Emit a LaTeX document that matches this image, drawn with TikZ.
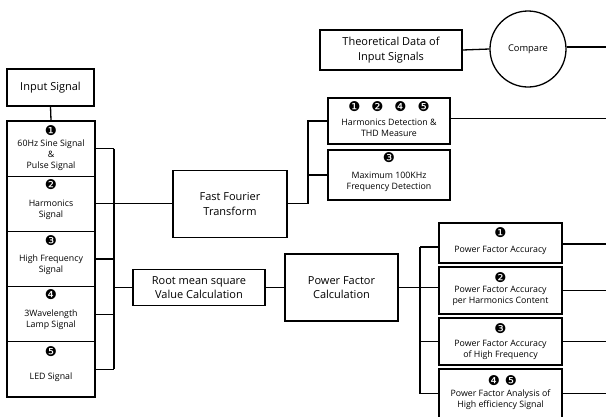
\documentclass[tikz,border=0pt]{standalone}
\usepackage{fontspec}
\setmainfont{Open Sans}
\newfontfamily\numfont{DejaVu Sans}
\tikzset{
  every picture/.style={x=1pt,y=-1pt},
  box/.style={draw,line width=1.3pt,fill=white,inner sep=0pt,align=center},
  bigtxt/.style={font=\fontsize{11}{14.5}\selectfont},
  smalltxt/.style={font=\fontsize{8.8}{11}\selectfont,align=center,inner sep=0pt},
  numtxt/.style={font=\numfont\fontsize{13.5}{14}\selectfont,inner sep=0pt},
  wire/.style={line width=1.3pt},
}
\newcommand{\nb}[1]{\char"#1}
\begin{document}
\begin{tikzpicture}
\useasboundingbox (0,0) rectangle (606,416);
\clip (0,0) rectangle (606,416);

% top
\node[box,bigtxt,minimum width=142pt,minimum height=40pt] (theo) at (391,50) {Theoretical Data of\\Input Signals};
\node[draw,circle,line width=1.3pt,minimum size=76pt,inner sep=0pt,font=\fontsize{9.3}{10}\selectfont] (cmp) at (528,49) {Compare};
\coordinate (cmpout) at (606,47);
\draw[wire] (theo.east) -- (cmp.west);
\draw[wire] (cmp.east |- cmpout) -- (cmpout);

% input column
\node[box,bigtxt,minimum width=87pt,minimum height=37pt] (insig) at (50.5,87.5) {Input Signal};
\node[box,minimum width=88pt,minimum height=55.2pt] (s1) at (51,148.6) {};
\node[box,minimum width=88pt,minimum height=55.2pt] (s2) at (51,203.8) {};
\node[box,minimum width=88pt,minimum height=55.2pt] (s3) at (51,259.0) {};
\node[box,minimum width=88pt,minimum height=55.2pt] (s4) at (51,314.2) {};
\node[box,minimum width=88pt,minimum height=55.2pt] (s5) at (51,369.4) {};
\node[numtxt] (n1) at ([yshift=-10pt]s1.north) {\nb{2776}};
\node[smalltxt] (t1) at ([yshift=-6.5pt]s1.center) {60Hz Sine Signal\\\&\\Pulse Signal};
\node[numtxt] (n2) at ([yshift=-9.5pt]s2.north) {\nb{2777}};
\node[smalltxt] (t2) at ([yshift=-6pt]s2.center) {Harmonics\\Signal};
\node[numtxt] (n3) at ([yshift=-9.5pt]s3.north) {\nb{2778}};
\node[smalltxt] (t3) at ([yshift=-6pt]s3.center) {High Frequency\\Signal};
\node[numtxt] (n4) at ([yshift=-8.5pt]s4.north) {\nb{2779}};
\node[smalltxt] (t4) at ([yshift=-6pt]s4.center) {3Wavelength\\Lamp Signal};
\node[numtxt] (n5) at ([yshift=-10pt]s5.north) {\nb{277A}};
\node[smalltxt] (t5) at ([yshift=-8pt]s5.center) {LED Signal};
\draw[wire] (insig.south) -- (s1.north);

% left bus
\coordinate (busL) at (114,0);
\foreach \s in {s1,s2,s3,s4,s5} \draw[wire] (\s.east) -- (\s.east -| busL);
\draw[wire] (s1.east -| busL) -- (s5.east -| busL);

% FFT and RMS
\node[box,bigtxt,minimum width=114pt,minimum height=67pt] (fft) at (230,203.8) {Fast Fourier\\Transform};
\node[box,bigtxt,minimum width=132pt,minimum height=36pt] (rms) at (199,287.5) {Root mean square\\Value Calculation};
\node[box,bigtxt,minimum width=113pt,minimum height=67pt] (pfc) at (341.5,287.5) {Power Factor\\Calculation};
\draw[wire] (s2.east -| busL) -- (fft.west);
\draw[wire] (rms.west -| busL) -- (rms.west);
\draw[wire] (rms.east) -- (pfc.west);

% FFT results
\node[box,minimum width=122pt,minimum height=46pt] (harm) at (389,121) {};
\node[numtxt] (hn) at ([yshift=-9pt]harm.north) {\nb{2776}\hspace{11pt}\nb{2777}\hspace{11pt}\nb{2779}\hspace{11pt}\nb{277A}};
\node[smalltxt] (ht) at ([yshift=-7pt]harm.center) {Harmonics Detection \&\\THD Measure};
\node[box,minimum width=122pt,minimum height=50pt] (maxf) at (389,175) {};
\node[numtxt] (mn) at ([yshift=-8.5pt]maxf.north) {\nb{2778}};
\node[smalltxt] (mt) at ([yshift=-7pt]maxf.center) {Maximum 100KHz\\Frequency Detection};
\coordinate (busF) at (308,0);
\draw[wire] (fft.east) -- (fft.east -| busF) -- (harm.west -| busF) -- (harm.west);
\draw[wire] (maxf.west -| busF) -- (maxf.west);
\coordinate (harmout) at (606,118.5);
\draw[wire] (harm.east |- harmout) -- (harmout);

% PF results
\node[box,minimum width=123pt,minimum height=40pt] (pf1) at (500.5,243) {};
\node[numtxt] (p1n) at ([yshift=-10pt]pf1.north) {\nb{2776}};
\node[smalltxt] (p1t) at ([yshift=-7pt]pf1.center) {Power Factor Accuracy};
\node[box,minimum width=123pt,minimum height=47pt] (pf2) at (500.5,290.5) {};
\node[numtxt] (p2n) at ([yshift=-11pt]pf2.north) {\nb{2777}};
\node[smalltxt] (p2t) at ([yshift=-5.5pt]pf2.center) {Power Factor Accuracy\\per Harmonics Content};
\node[box,minimum width=123pt,minimum height=47pt] (pf3) at (500.5,341.5) {};
\node[numtxt] (p3n) at ([yshift=-11pt]pf3.north) {\nb{2778}};
\node[smalltxt] (p3t) at ([yshift=-8pt]pf3.center) {Power Factor Accuracy\\of High Frequency};
\node[box,minimum width=123pt,minimum height=49pt] (pf4) at (500.5,393.5) {};
\node[numtxt] (p4n) at ([yshift=-12pt,xshift=2pt]pf4.north) {\nb{2779}\hspace{5pt}\nb{277A}};
\node[smalltxt] (p4t) at ([yshift=-6pt]pf4.center) {Power Factor Analysis of\\High efficiency Signal};

\coordinate (busP) at (420,0);
\coordinate (b1) at (420,247);
\draw[wire] (pfc.east) -- (pfc.east -| busP);
\draw[wire] (b1) -- (pf4.west -| busP);
\draw[wire] (b1) -- (b1 -| pf1.west);
\draw[wire] (pfc.east -| busP) -- (pfc.east -| pf2.west);
\draw[wire] (pf3.west -| busP) -- (pf3.west);
\draw[wire] (pf4.west -| busP) -- (pf4.west);
\coordinate (rEdge) at (606,0);
\draw[wire] ([yshift=-1pt]pf1.east) -- ([yshift=-1pt]pf1.east -| rEdge);
\foreach \p in {pf2,pf3,pf4} \draw[wire] (\p.east) -- (\p.east -| rEdge);
\end{tikzpicture}
\end{document}
